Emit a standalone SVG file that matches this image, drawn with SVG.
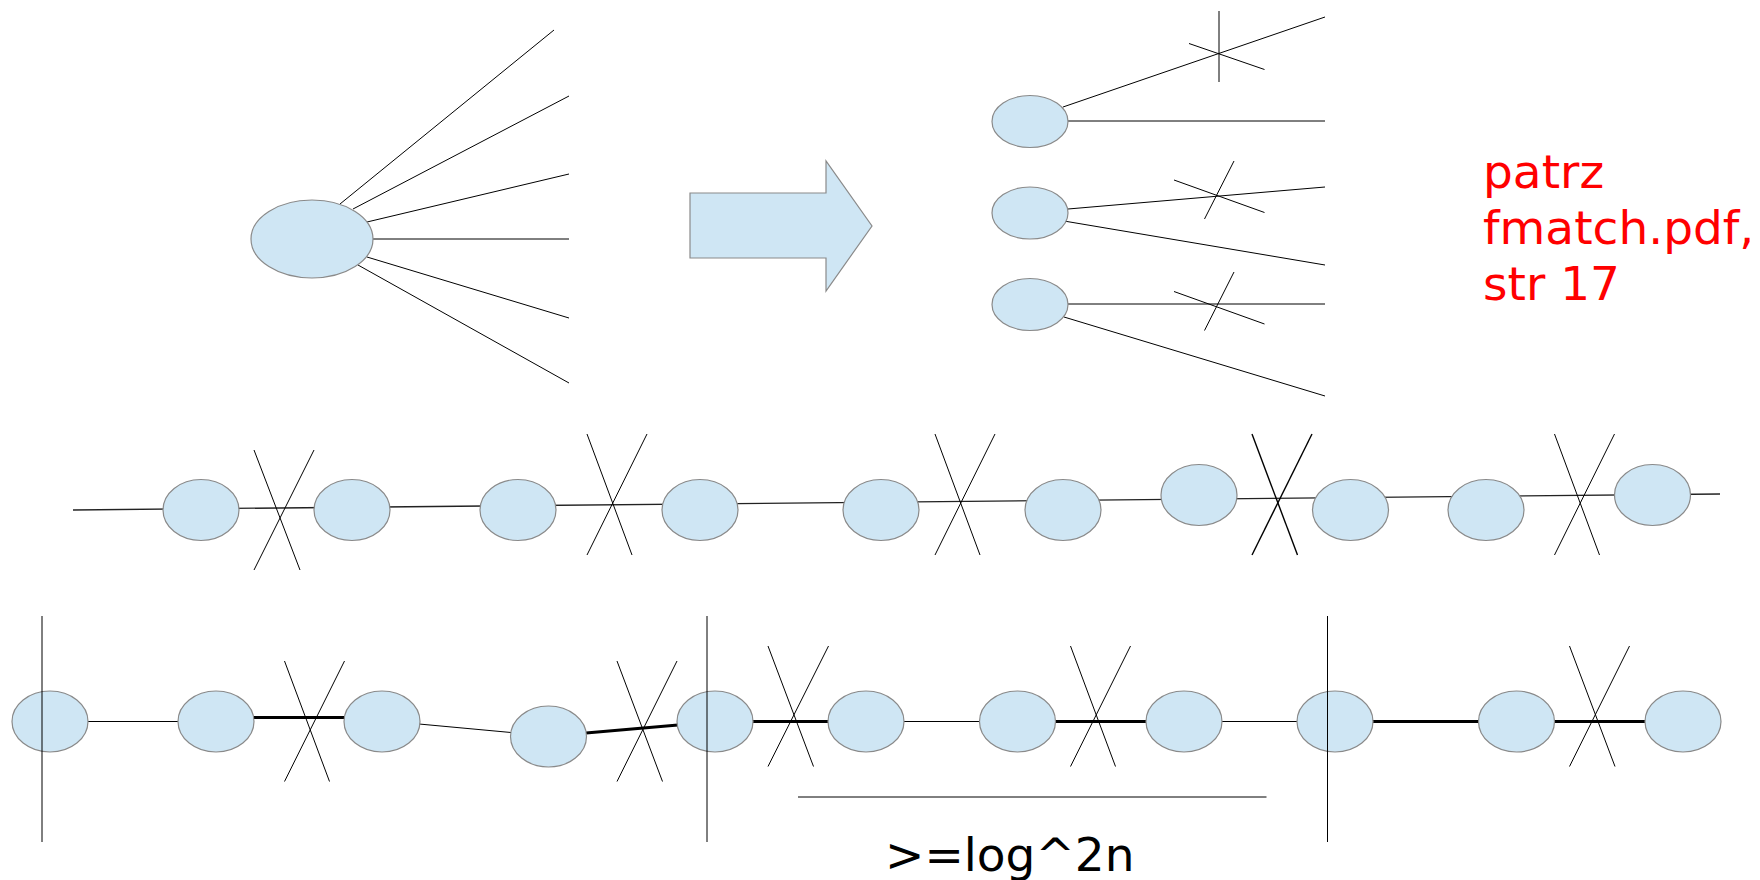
<svg xmlns="http://www.w3.org/2000/svg" width="1760" height="880" viewBox="0 0 1760 880">
  <style>
    .node { fill: #cfe6f4; stroke: #8a8a8a; stroke-width: 1.2; }
    .edge { stroke: #000; stroke-width: 1; fill: none; }
    .thick { stroke: #000; stroke-width: 3; fill: none; }
    .mid { stroke: #222; stroke-width: 1.3; fill: none; }
    .cut { stroke: #000; stroke-width: 1; fill: none; }
    .cutb { stroke: #000; stroke-width: 1.4; fill: none; }
    .txt { font-family: "DejaVu Sans", sans-serif; font-size: 47px; }
  </style>
  <rect width="1760" height="880" fill="#fff"/>

  <!-- connectors -->
  <g id="connectors">
    <!-- fan of edges from the single vertex -->
    <line class="edge" x1="340" y1="204" x2="554" y2="30"/>
    <line class="edge" x1="353" y1="209" x2="569" y2="96"/>
    <line class="edge" x1="367" y1="222" x2="569" y2="174"/>
    <line class="edge" x1="373" y1="239" x2="569" y2="239"/>
    <line class="edge" x1="367" y1="257" x2="569" y2="318"/>
    <line class="edge" x1="358" y1="265" x2="569" y2="383"/>

    <!-- split vertices, two edges each -->
    <line class="edge" x1="1063" y1="107" x2="1325" y2="17"/>
    <line class="edge" x1="1068" y1="121" x2="1325" y2="121"/>
    <line class="edge" x1="1068" y1="209" x2="1325" y2="187"/>
    <line class="edge" x1="1064" y1="221" x2="1325" y2="265"/>
    <line class="edge" x1="1068" y1="304" x2="1325" y2="304"/>
    <line class="edge" x1="1064" y1="317" x2="1325" y2="396"/>

    <!-- path (middle row) -->
    <line class="mid" x1="73" y1="510" x2="1720" y2="494"/>

    <!-- path with partition (bottom row) -->
    <line class="edge" x1="88" y1="721.5" x2="179" y2="721.5"/>
    <line class="thick" x1="253" y1="717.5" x2="345" y2="717.5"/>
    <line class="edge" x1="419" y1="724" x2="511" y2="732.5"/>
    <line class="thick" x1="586" y1="733" x2="678" y2="725"/>
    <line class="thick" x1="752" y1="721.5" x2="829" y2="721.5"/>
    <line class="edge" x1="903" y1="721.5" x2="980" y2="721.5"/>
    <line class="thick" x1="1055" y1="721.5" x2="1146" y2="721.5"/>
    <line class="edge" x1="1221" y1="721.5" x2="1298" y2="721.5"/>
    <line class="thick" x1="1372" y1="721.5" x2="1479" y2="721.5"/>
    <line class="thick" x1="1554" y1="721.5" x2="1645" y2="721.5"/>
  </g>

  <!-- nodes -->
  <g id="hub"><ellipse class="node" cx="312" cy="239" rx="61" ry="39"/></g>
  <g id="arrow"><polygon class="node" points="690,193 826,193 826,161 872,226 826,291 826,258 690,258"/></g>

  <g id="split1"><ellipse class="node" cx="1030" cy="121.5" rx="38" ry="26"/></g>
  <g id="split2"><ellipse class="node" cx="1030" cy="213" rx="38" ry="26"/></g>
  <g id="split3"><ellipse class="node" cx="1030" cy="304.5" rx="38" ry="26"/></g>

  <g id="p1"><ellipse class="node" cx="201" cy="510" rx="38" ry="30.5"/></g>
  <g id="p2"><ellipse class="node" cx="352" cy="510" rx="38" ry="30.5"/></g>
  <g id="p3"><ellipse class="node" cx="518" cy="510" rx="38" ry="30.5"/></g>
  <g id="p4"><ellipse class="node" cx="700" cy="510" rx="38" ry="30.5"/></g>
  <g id="p5"><ellipse class="node" cx="881" cy="510" rx="38" ry="30.5"/></g>
  <g id="p6"><ellipse class="node" cx="1063" cy="510" rx="38" ry="30.5"/></g>
  <g id="p7"><ellipse class="node" cx="1199" cy="495" rx="38" ry="30.5"/></g>
  <g id="p8"><ellipse class="node" cx="1350.5" cy="510" rx="38" ry="30.5"/></g>
  <g id="p9"><ellipse class="node" cx="1486" cy="510" rx="38" ry="30.5"/></g>
  <g id="p10"><ellipse class="node" cx="1652.5" cy="495" rx="38" ry="30.5"/></g>

  <g id="q1"><ellipse class="node" cx="50" cy="721.5" rx="38" ry="30.5"/></g>
  <g id="q2"><ellipse class="node" cx="216" cy="721.5" rx="38" ry="30.5"/></g>
  <g id="q3"><ellipse class="node" cx="382" cy="721.5" rx="38" ry="30.5"/></g>
  <g id="q4"><ellipse class="node" cx="548.5" cy="736.5" rx="38" ry="30.5"/></g>
  <g id="q5"><ellipse class="node" cx="715" cy="721.5" rx="38" ry="30.5"/></g>
  <g id="q6"><ellipse class="node" cx="866" cy="721.5" rx="38" ry="30.5"/></g>
  <g id="q7"><ellipse class="node" cx="1017.5" cy="721.5" rx="38" ry="30.5"/></g>
  <g id="q8"><ellipse class="node" cx="1184" cy="721.5" rx="38" ry="30.5"/></g>
  <g id="q9"><ellipse class="node" cx="1335" cy="721.5" rx="38" ry="30.5"/></g>
  <g id="q10"><ellipse class="node" cx="1516.5" cy="721.5" rx="38" ry="30.5"/></g>
  <g id="q11"><ellipse class="node" cx="1683" cy="721.5" rx="38" ry="30.5"/></g>

  <!-- cut marks -->
  <g id="cuts">
    <line class="cut" x1="1219" y1="11" x2="1219" y2="82"/>
    <line class="cut" x1="1189" y1="43.5" x2="1264.5" y2="69.5"/>
    <line class="cut" x1="1234" y1="161" x2="1204.5" y2="219"/>
    <line class="cut" x1="1174" y1="180" x2="1264.5" y2="212.5"/>
    <line class="cut" x1="1234" y1="272" x2="1204.5" y2="330.5"/>
    <line class="cut" x1="1174" y1="291.5" x2="1264.5" y2="324"/>

    <line class="cut" x1="254" y1="450" x2="300" y2="570"/>
    <line class="cut" x1="314" y1="450" x2="254" y2="570"/>
    <line class="cut" x1="587" y1="434" x2="632" y2="555"/>
    <line class="cut" x1="647" y1="434" x2="587" y2="555"/>
    <line class="cut" x1="935" y1="434" x2="980" y2="555"/>
    <line class="cut" x1="995" y1="434" x2="935" y2="555"/>
    <line class="cutb" x1="1252" y1="434" x2="1297.5" y2="555"/>
    <line class="cutb" x1="1312" y1="434" x2="1252" y2="555"/>
    <line class="cut" x1="1554.5" y1="434" x2="1599.5" y2="555"/>
    <line class="cut" x1="1614.5" y1="434" x2="1554.5" y2="555"/>

    <line class="cut" x1="284.5" y1="661" x2="329.5" y2="781.5"/>
    <line class="cut" x1="344.5" y1="661" x2="284.5" y2="781.5"/>
    <line class="cut" x1="617" y1="661" x2="662.5" y2="781.5"/>
    <line class="cut" x1="677" y1="661" x2="617" y2="781.5"/>
    <line class="cut" x1="768" y1="646" x2="813.5" y2="766.5"/>
    <line class="cut" x1="828.5" y1="646" x2="768" y2="766.5"/>
    <line class="cut" x1="1070.5" y1="646" x2="1115.5" y2="766.5"/>
    <line class="cut" x1="1130.5" y1="646" x2="1070.5" y2="766.5"/>
    <line class="cut" x1="1569.5" y1="646" x2="1615" y2="766.5"/>
    <line class="cut" x1="1629.5" y1="646" x2="1569.5" y2="766.5"/>

    <!-- segment boundaries -->
    <line class="cut" x1="42" y1="616" x2="42" y2="842"/>
    <line class="cut" x1="707" y1="616" x2="707" y2="842"/>
    <line class="cut" x1="1327.5" y1="616" x2="1327.5" y2="842"/>
    <!-- length bracket -->
    <line class="edge" x1="798" y1="797" x2="1266.5" y2="797" stroke-width="1.2"/>
  </g>

  <g id="labels">
    <text class="txt" fill="#ff0000" x="1483" y="188">patrz</text>
    <text class="txt" fill="#ff0000" x="1483" y="244">fmatch.pdf,</text>
    <text class="txt" fill="#ff0000" x="1483" y="300">str 17</text>
    <text class="txt" fill="#000" x="885" y="871">&gt;=log^2n</text>
  </g>
</svg>
